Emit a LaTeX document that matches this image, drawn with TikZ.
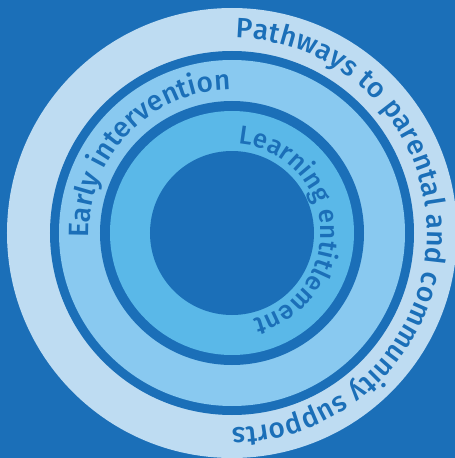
\documentclass[tikz,border=0pt]{standalone}
\usepackage{fontspec}
\setmainfont{Fira Sans}[UprightFont={* Medium}]
\usepackage{tikz}
\usetikzlibrary{decorations.text}
\definecolor{ringdark}{HTML}{1B6FB8}
\definecolor{ringpale}{HTML}{BEDCF2}
\definecolor{ringmid}{HTML}{89C9F0}
\definecolor{ringinner}{HTML}{5AB8E8}
\newcommand{\ringfont}{\fontsize{28}{32}\selectfont\color{ringdark}}
\newcommand{\ringfontsmall}{\fontsize{26}{30}\selectfont\color{ringdark}}

\begin{document}
\begin{tikzpicture}[
x=1pt,y=1pt,
RingFill/.style={draw=none},
RingText/.style={decorate,decoration={text along path,text align=fit to path}}
]
%\draw[help lines,step=50] (-232,-225) grid (223,233);
\useasboundingbox (-232,-225) rectangle (223,233);
\clip (-232,-225) rectangle (223,233);
\fill[ringdark] (-232,-225) rectangle (223,233);

\coordinate (O) at (0,0);

% radii of the rings (outer edge of each band)
\pgfmathparse{225}	\let\Rpale\pgfmathresult
\pgfmathparse{182}	\let\Rdarka\pgfmathresult
\pgfmathparse{173}	\let\Rmid\pgfmathresult
\pgfmathparse{132}	\let\Rdarkb\pgfmathresult
\pgfmathparse{122}	\let\Rinner\pgfmathresult
\pgfmathparse{82}	\let\Rcore\pgfmathresult

\fill[RingFill,ringpale] (O) circle[radius=\Rpale];
\fill[RingFill,ringdark] (O) circle[radius=\Rdarka];
\fill[RingFill,ringmid] (O) circle[radius=\Rmid];
\fill[RingFill,ringdark] (O) circle[radius=\Rdarkb];
\fill[RingFill,ringinner] (O) circle[radius=\Rinner];
\fill[RingFill,ringdark] (O) circle[radius=\Rcore];

% labels, written clockwise on a baseline inside each band
\path[RingText,decoration={text={|\ringfont|Pathways to parental and community supports}}]
(89:195) arc[start angle=89,end angle=-90,radius=195];

\path[RingText,decoration={text={|\ringfont|Early intervention}}]
(182:143) arc[start angle=182,end angle=91.5,radius=143];

\path[RingText,decoration={text={|\ringfontsmall|Learning entitlement}}]
(86:89) arc[start angle=86,end angle=-76,radius=89];

\end{tikzpicture}
\end{document}
